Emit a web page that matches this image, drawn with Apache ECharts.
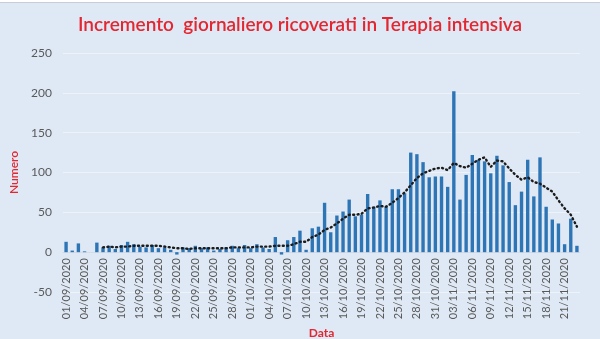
<!DOCTYPE html>
<html>
<head>
<meta charset="utf-8">
<script src="https://cdn.jsdelivr.net/npm/echarts@6/dist/echarts.min.js"></script>
<style>
  html, body { margin: 0; padding: 0; background: #ffffff; }
  #chart { width: 600px; height: 339px; }
</style>
</head>
<body>
<div id="chart"></div>
<script>
// Daily dates, 01/09/2020 .. 23/11/2020
const dates = [
  '01/09/2020','02/09/2020','03/09/2020','04/09/2020','05/09/2020','06/09/2020','07/09/2020','08/09/2020','09/09/2020','10/09/2020',
  '11/09/2020','12/09/2020','13/09/2020','14/09/2020','15/09/2020','16/09/2020','17/09/2020','18/09/2020','19/09/2020','20/09/2020',
  '21/09/2020','22/09/2020','23/09/2020','24/09/2020','25/09/2020','26/09/2020','27/09/2020','28/09/2020','29/09/2020','30/09/2020',
  '01/10/2020','02/10/2020','03/10/2020','04/10/2020','05/10/2020','06/10/2020','07/10/2020','08/10/2020','09/10/2020','10/10/2020',
  '11/10/2020','12/10/2020','13/10/2020','14/10/2020','15/10/2020','16/10/2020','17/10/2020','18/10/2020','19/10/2020','20/10/2020',
  '21/10/2020','22/10/2020','23/10/2020','24/10/2020','25/10/2020','26/10/2020','27/10/2020','28/10/2020','29/10/2020','30/10/2020',
  '31/10/2020','01/11/2020','02/11/2020','03/11/2020','04/11/2020','05/11/2020','06/11/2020','07/11/2020','08/11/2020','09/11/2020',
  '10/11/2020','11/11/2020','12/11/2020','13/11/2020','14/11/2020','15/11/2020','16/11/2020','17/11/2020','18/11/2020','19/11/2020',
  '20/11/2020','21/11/2020','22/11/2020','23/11/2020'
];

// Daily increase of ICU patients
const increments = [
  13, 2, 11, 1, 0, 12, 6, 8, 4, 9,
  13, 10, 7, 6, 9, 5, 6, 3, -3, 6,
  5, 8, 5, 6, 2, 4, 6, 8, 5, 9,
  5, 10, 6, 4, 19, -3, 15, 19, 27, 3,
  30, 32, 62, 25, 46, 51, 66, 45, 47, 73,
  57, 65, 57, 79, 79, 74, 125, 123, 113, 94,
  95, 95, 82, 202, 66, 97, 122, 116, 114, 99,
  121, 109, 88, 59, 76, 116, 70, 119, 57, 41,
  36, 10, 42, 8
];

// Moving-average trend line (dotted)
const trend = [
  null, null, null, null, null, null, 6, 7, 6, 7,
  7, 8, 8, 8, 8, 8, 7, 6, 5, 5,
  4, 5, 5, 5, 5, 5, 5, 6, 6, 6,
  6, 7, 7, 7, 8, 8, 8, 10, 13, 13,
  19, 22, 28, 31, 36, 42, 47, 47, 48, 55,
  56, 58, 57, 62, 68, 75, 84, 93, 99, 102,
  105, 106, 103, 112, 108, 106, 111, 116, 119, 107,
  115, 114, 105, 97, 91, 94, 88, 86, 81, 76,
  65, 55, 47, 32
];

const yTicks = { min: -50, max: 250, step: 50 };

const gridTop = 53;
const gridHeight = 239;
// the category axis sits on the zero line: lift it from the grid bottom
const zeroLift = gridHeight * (0 - yTicks.min) / (yTicks.max - yTicks.min);

const chart = echarts.init(document.getElementById('chart'), null, { renderer: 'canvas' });

const font = 'Lato, "Open Sans", sans-serif';

chart.setOption({
  backgroundColor: '#dfe9f5',
  animation: false,
  title: {
    text: 'Incremento  giornaliero ricoverati in Terapia intensiva',
    left: 'center',
    top: 10,
    textStyle: { color: '#e3262f', fontSize: 19, fontWeight: 600, fontFamily: font }
  },
  graphic: [{
    type: 'rect',
    shape: { x: 0, y: 0, width: 600, height: 2 },
    style: { fill: '#ffffff' }
  }, {
    type: 'line',
    shape: { x1: 0, y1: 2.5, x2: 600, y2: 2.5 },
    style: { stroke: '#c9ced6', lineWidth: 1 }
  }],
  grid: { left: 63, right: 20, top: gridTop, height: gridHeight, outerBoundsMode: 'none', containLabel: false },
  xAxis: {
    type: 'category',
    data: dates,
    boundaryGap: true,
    position: 'bottom',
    offset: -zeroLift,
    name: 'Data',
    nameLocation: 'middle',
    nameGap: 69,
    nameTextStyle: { color: '#e3262f', fontSize: 12, fontFamily: font, fontWeight: 'bold' },
    axisLine: { onZero: false, lineStyle: { color: '#d3dbe6' } },
    axisTick: { show: false },
    axisLabel: {
      interval: 2,
      rotate: 90,
      color: '#595959',
      fontSize: 11,
      fontFamily: font,
      margin: 6
    },
    splitLine: { show: false }
  },
  yAxis: {
    type: 'value',
    min: yTicks.min,
    max: yTicks.max,
    interval: yTicks.step,
    name: 'Numero',
    nameLocation: 'middle',
    nameGap: 32,
    nameTextStyle: { color: '#e3262f', fontSize: 12, fontFamily: font, fontWeight: 600 },
    axisLine: { show: false },
    axisTick: { show: false },
    axisLabel: { color: '#595959', fontSize: 12, fontFamily: font, margin: 11 },
    splitLine: { lineStyle: { color: '#eef3fa', width: 1 } }
  },
  series: [{
    name: 'Incremento',
    type: 'bar',
    data: increments,
    barWidth: '55%',
    itemStyle: { color: '#2e75b6' }
  }, {
    name: 'Media mobile',
    type: 'line',
    data: trend,
    symbol: 'none',
    connectNulls: false,
    lineStyle: { type: [1, 3.4], width: 2.4, color: '#1c1c1c', cap: 'round' },
    z: 3
  }]
});
</script>
</body>
</html>
